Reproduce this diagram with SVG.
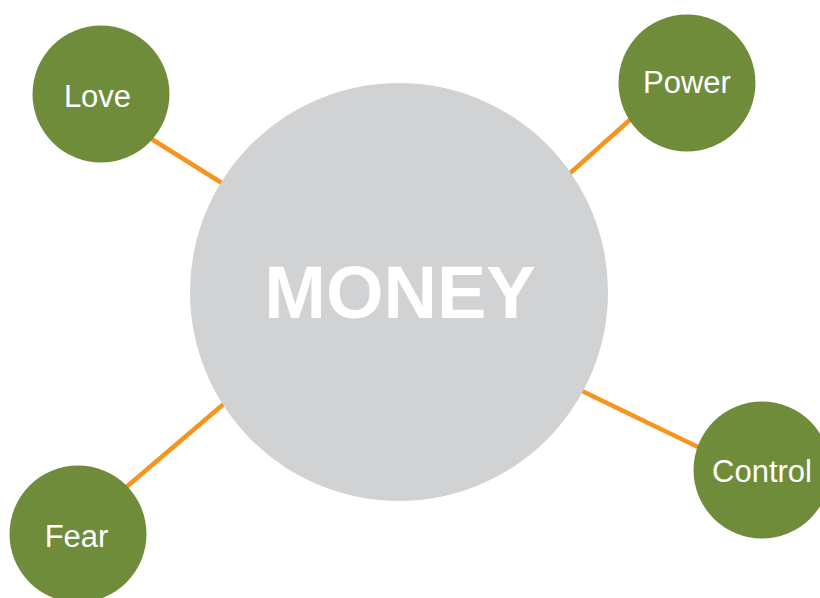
<svg xmlns="http://www.w3.org/2000/svg" width="820" height="598" viewBox="0 0 820 598">
<style>
.leaf{fill:#6f8c3b}
.lbl{fill:#fff;font-family:"Liberation Sans",Arial,sans-serif;font-size:31px;text-anchor:middle}
.conn{stroke:#f7941d;stroke-width:4.5;fill:none}
</style>
<rect width="820" height="598" fill="#fff"/>
<g id="connectors">
<line class="conn" x1="150" y1="138" x2="225" y2="185"/>
<line class="conn" x1="632" y1="118" x2="568" y2="175"/>
<line class="conn" x1="580" y1="390" x2="700" y2="448"/>
<line class="conn" x1="124" y1="489" x2="226" y2="402"/>
</g>
<g id="money">
<circle cx="399" cy="292" r="209" fill="#d1d2d4"/>
<text x="400" y="318" fill="#fff" font-family="'Liberation Sans',Arial,sans-serif" font-size="74" font-weight="bold" text-anchor="middle">MONEY</text>
</g>
<g id="love">
<circle class="leaf" cx="101" cy="94" r="68.5"/>
<text class="lbl" x="97.5" y="107">Love</text>
</g>
<g id="power">
<circle class="leaf" cx="687" cy="83" r="68.5"/>
<text class="lbl" x="687" y="93">Power</text>
</g>
<g id="control">
<circle class="leaf" cx="762" cy="470" r="68.5"/>
<text class="lbl" x="762" y="482">Control</text>
</g>
<g id="fear">
<circle class="leaf" cx="78" cy="534" r="68.5"/>
<text class="lbl" x="76.5" y="547">Fear</text>
</g>
</svg>
